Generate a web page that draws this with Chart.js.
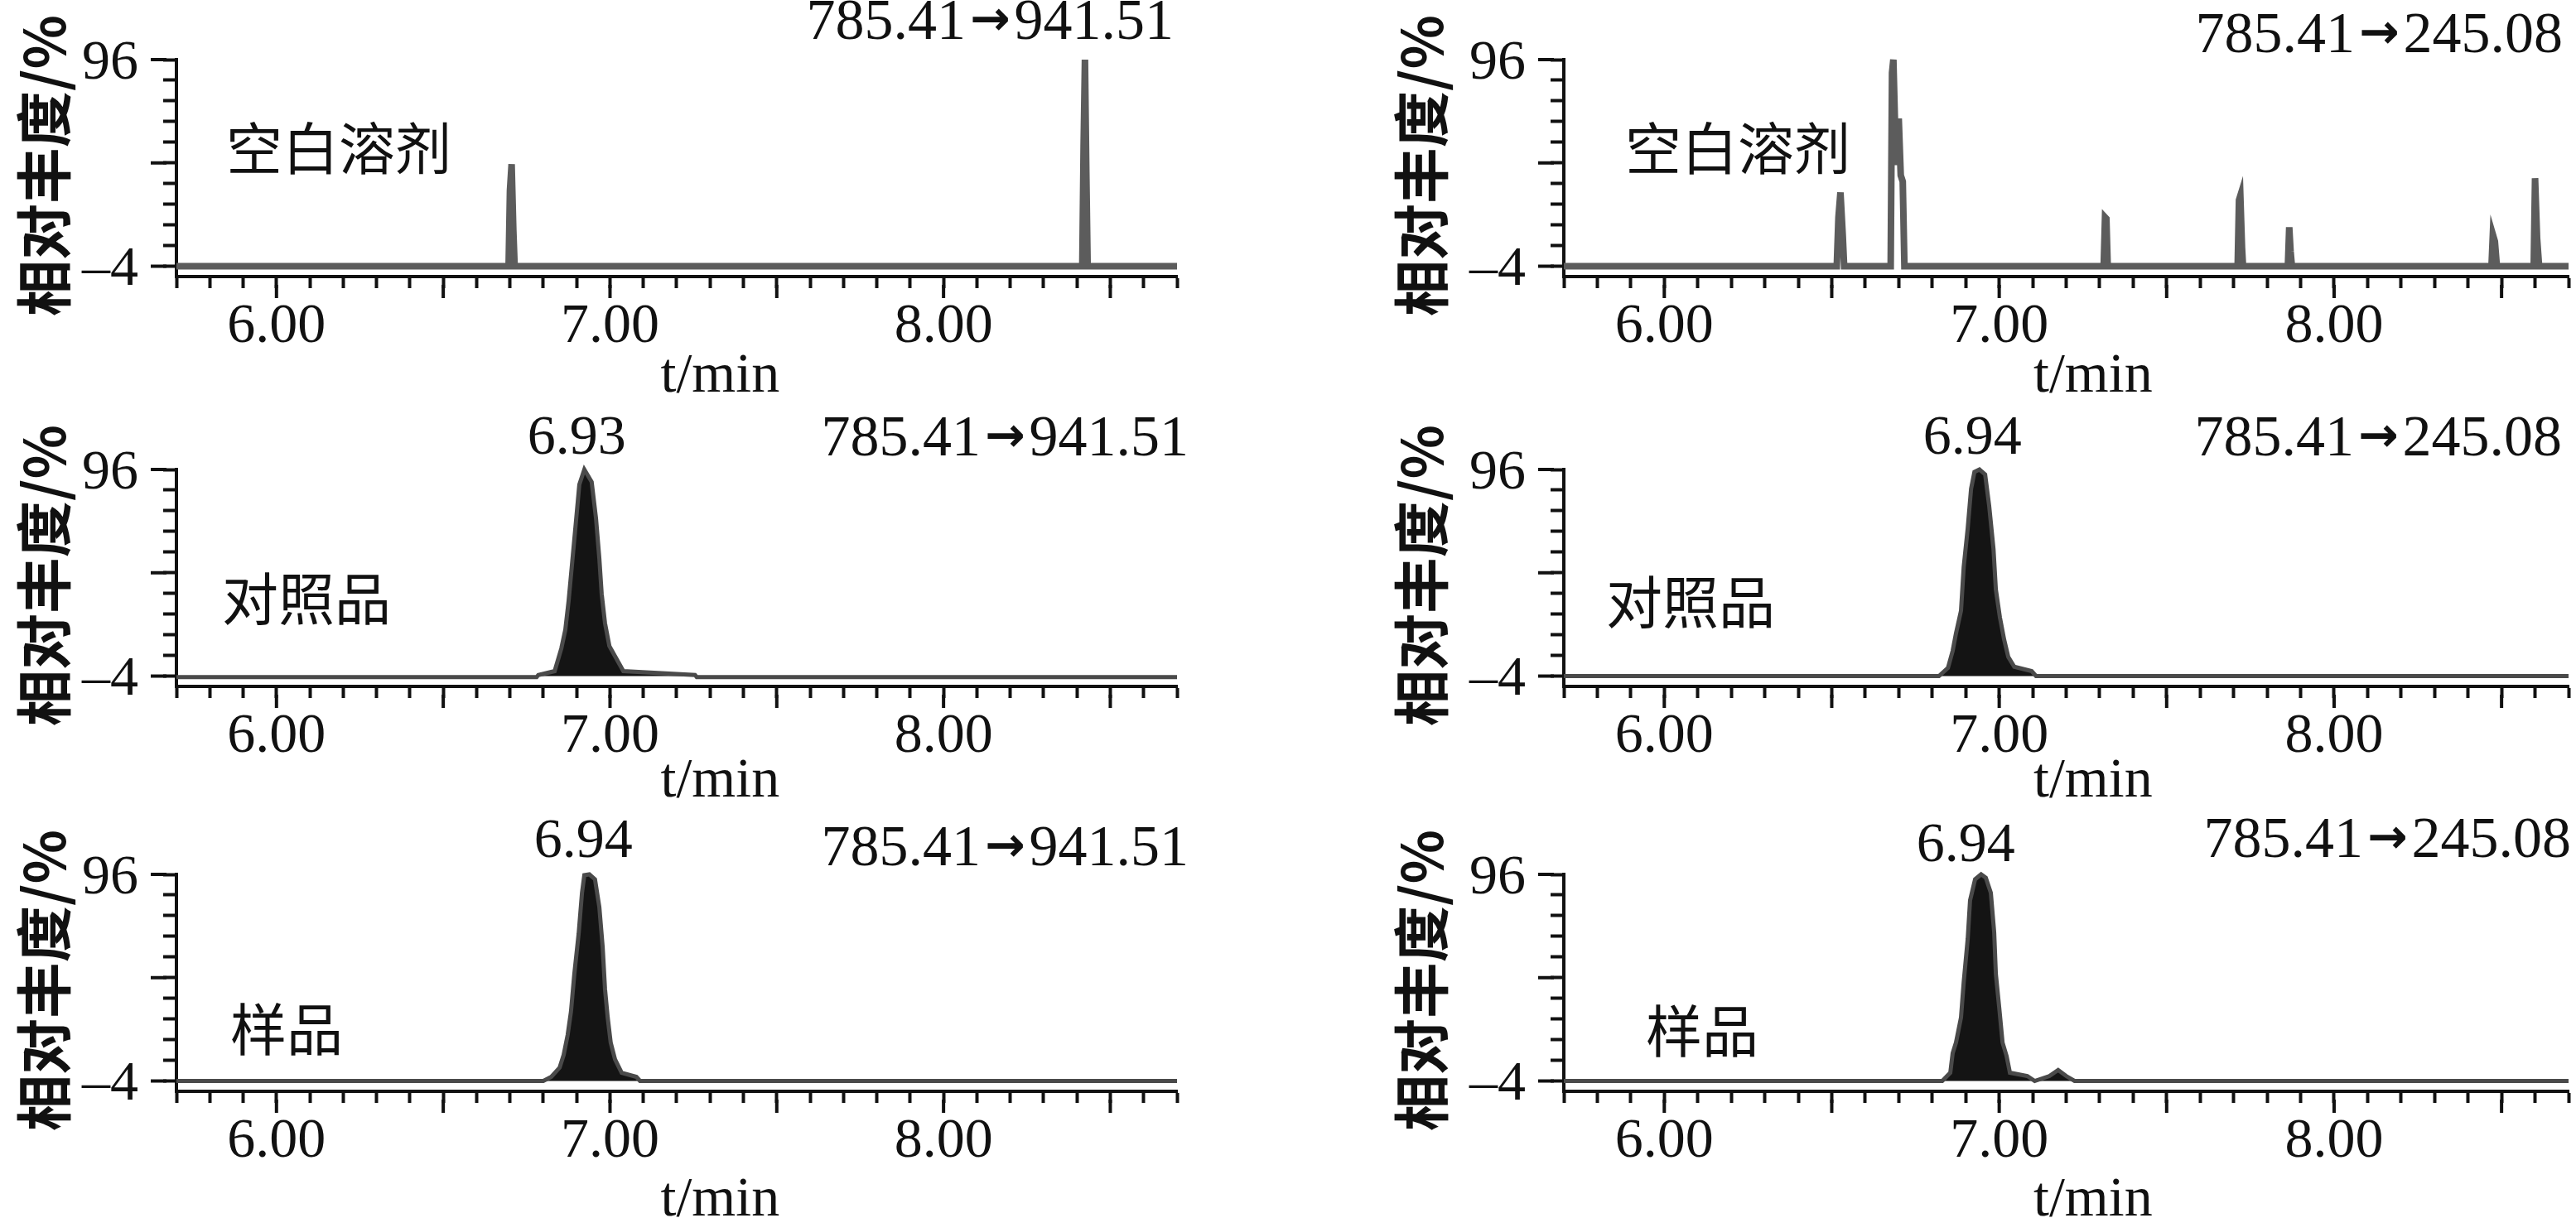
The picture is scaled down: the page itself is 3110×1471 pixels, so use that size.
<!DOCTYPE html>
<html>
<head>
<meta charset="utf-8">
<title>MRM chromatograms</title>
<script src="https://cdn.jsdelivr.net/npm/chart.js@4.4.0/dist/chart.umd.min.js"></script>
<style>
  html, body { margin: 0; padding: 0; background: #fff; }
  body { width: 3110px; height: 1471px; position: relative; overflow: hidden; }
  canvas { position: absolute; }
</style>
</head>
<body>
<canvas id="c0"></canvas>
<canvas id="c1"></canvas>
<canvas id="c2"></canvas>
<canvas id="c3"></canvas>
<canvas id="c4"></canvas>
<canvas id="c5"></canvas>
<script>
// axes
var xMin = 5.70, xMax = 8.70;
var yMin = -9, yMax = 96;
var yTickValues = [-4, 6, 16, 26, 36, 46, 56, 66, 76, 86, 96];
var yTickLabels = [96, -4];
var yMajorTicks = [96, 46, -4];
var xTickLabels = ['6.00', '7.00', '8.00'];
var xMajorTicks = [6.0, 6.5, 7.0, 7.5, 8.0, 8.5];

// 785.41 -> 941.51 channel
var blank941Time  = [5.70, 6.696, 6.700, 6.705, 6.710, 6.714, 8.416, 8.420, 8.424, 8.428, 8.432, 8.70];
var blank941Abund = [-4, -4, 32.5, 45.4, 13.7, -4, -4, 53.8, 96, 41.8, -4, -4];

var std941Time  = [5.70, 6.78, 6.785, 6.834, 6.854, 6.866, 6.876, 6.886, 6.898, 6.908, 6.923, 6.945, 6.958, 6.968, 6.975, 6.985, 6.998, 7.04, 7.255, 7.26, 8.70];
var std941Abund = [-4.5, -4.5, -3.5, -1.6, 9.4, 18.4, 32.6, 50, 71, 88.7, 96, 90, 72.4, 52.9, 35.8, 21.6, 10.6, -1.6, -3.5, -4.5, -4.5];

var sample941Time  = [5.70, 6.80, 6.824, 6.849, 6.861, 6.873, 6.883, 6.893, 6.906, 6.916, 6.923, 6.938, 6.955, 6.968, 6.978, 6.985, 6.993, 7.002, 7.015, 7.035, 7.079, 7.09, 8.70];
var sample941Abund = [-4, -4, -2, 2.5, 8.6, 18.3, 29.6, 47.8, 67.3, 87.1, 95.6, 96, 93.6, 80.2, 60.8, 40.5, 26.8, 14.6, 6.5, 0, -2, -4, -4];

// 785.41 -> 245.08 channel
var blank245Time  = [5.70, 6.515, 6.520, 6.526, 6.533, 6.537, 6.676, 6.680, 6.684, 6.692, 6.700, 6.706, 6.712, 6.717,
                     7.312, 7.316, 7.320, 7.324, 7.712, 7.716, 7.720, 7.725, 7.728, 7.862, 7.866, 7.870, 7.874,
                     8.470, 8.474, 8.480, 8.486, 8.596, 8.600, 8.606, 8.612, 8.70];
var blank245Abund = [-4, -4, 19.7, 31.7, 10.5, -4, -4, 89.6, 96, 45, 67.5, 40, 37, -4,
                     -4, 19.7, 19, -4, -4, 28, 30.1, 5, -4, -4, 14.9, 3.2, -4,
                     -4, 11.3, 8, -4, -4, 38.6, 9.7, -4, -4];

var std245Time  = [5.70, 6.82, 6.847, 6.861, 6.871, 6.886, 6.894, 6.906, 6.916, 6.926, 6.941, 6.958, 6.970, 6.983, 6.990, 7.002, 7.015, 7.027, 7.045, 7.097, 7.11, 8.70];
var std245Abund = [-4, -4, 0, 8.2, 16.7, 27.7, 48.8, 67.5, 86.6, 94.8, 96, 93.6, 78.5, 57.4, 37.9, 24.5, 13.5, 5.3, 0.5, -1.6, -4, -4];

var sample245Time  = [5.70, 6.83, 6.854, 6.861, 6.871, 6.886, 6.894, 6.906, 6.913, 6.928, 6.946, 6.960, 6.975, 6.985, 6.990, 7.000, 7.010, 7.022, 7.032, 7.084, 7.106, 7.15, 7.176, 7.20, 7.225, 8.70];
var sample245Abund = [-4, -4, 0, 9.4, 14.6, 26.8, 43.8, 64.8, 83.4, 93.6, 96, 94.4, 87.1, 68, 47.8, 31.6, 14.6, 8.1, 0, -1.6, -4, -1.6, 1.3, -1.6, -4, -4];

// precursor -> product ion labels
var ion941 = ['785.41', '941.51'];
var ion245 = ['785.41', '245.08'];

// page layout
var cols = [
    { left: 0, width: 1460, axisX: 213, right: 1421, titleDx: -160 },
    { left: 1555, width: 1555, axisX: 333, right: 1546, titleDx: -172 }
];
var rowTops = [0, 495, 984];
var canvasH = 487, padTop = 72, plotH = 262;

var panels = [
    { id: 'c0', col: 0, row: 0, time: blank941Time, abund: blank941Abund, filled: false, ion: ion941, ionDx: -4, ionDy: -25,
      name: '空白溶剂', nameDx: 60, nameDy: 107, tminAt: 7.33, tminDy: 139 },
    { id: 'c1', col: 1, row: 0, time: blank245Time, abund: blank245Abund, filled: false, ion: ion245, ionDx: -7, ionDy: -9,
      name: '空白溶剂', nameDx: 74, nameDy: 107, tminAt: 7.28, tminDy: 139 },
    { id: 'c2', col: 0, row: 1, time: std941Time, abund: std941Abund, filled: true, ion: ion941, ionDx: 14, ionDy: -17,
      name: '对照品', nameDx: 55, nameDy: 156, peak: '6.93', peakAt: 6.90, peakDy: -19, tminAt: 7.33, tminDy: 133 },
    { id: 'c3', col: 1, row: 1, time: std245Time, abund: std245Abund, filled: true, ion: ion245, ionDx: -8, ionDy: -17,
      name: '对照品', nameDx: 51, nameDy: 160, peak: '6.94', peakAt: 6.92, peakDy: -19, tminAt: 7.28, tminDy: 133 },
    { id: 'c4', col: 0, row: 2, time: sample941Time, abund: sample941Abund, filled: true, ion: ion941, ionDx: 14, ionDy: -11,
      name: '样品', nameDx: 65, nameDy: 187, peak: '6.94', peakAt: 6.92, peakDy: -21, tminAt: 7.33, tminDy: 150 },
    { id: 'c5', col: 1, row: 2, time: sample245Time, abund: sample245Abund, filled: true, ion: ion245, ionDx: 3, ionDy: -21,
      name: '样品', nameDx: 99, nameDy: 189, peak: '6.94', peakAt: 6.90, peakDy: -16, tminAt: 7.28, tminDy: 150 }
];

var numFont = '"Liberation Serif", "Times New Roman", serif';
var cjkFont = '"Noto Sans CJK SC", sans-serif';
var arrowFont = 'bold 58px "DejaVu Sans", sans-serif';

function minusLabel(v) {
    return v < 0 ? '\u2013' + Math.abs(v) : String(v);
}

// "785.41 → 941.51", right aligned, with a heavier arrow like the original
function drawIon(ctx, parts, right, base) {
    ctx.font = '70px ' + numFont;
    var w1 = ctx.measureText(parts[0]).width;
    var w2 = ctx.measureText(parts[1]).width;
    ctx.font = arrowFont;
    var wa = ctx.measureText('\u2192').width;
    var x2 = right - w2;
    var xa = x2 - 5 - wa;
    var x1 = xa - 5 - w1;
    ctx.textAlign = 'left';
    ctx.fillText('\u2192', xa, base - 5);
    ctx.font = '70px ' + numFont;
    ctx.fillText(parts[0], x1, base);
    ctx.fillText(parts[1], x2, base);
}

function makeLabels(p, col) {
    return {
        id: 'chromLabels',
        afterDraw: function (chart) {
            var ctx = chart.ctx, a = chart.chartArea;
            var xs = chart.scales.x, ys = chart.scales.y;
            ctx.save();
            // longer ticks every 0.5 min and at 96 / 46 / -4
            ctx.strokeStyle = '#111';
            ctx.lineWidth = 4;
            xMajorTicks.forEach(function (t) {
                var px = xs.getPixelForValue(t);
                ctx.beginPath();
                ctx.moveTo(px, a.bottom + 10);
                ctx.lineTo(px, a.bottom + 26);
                ctx.stroke();
            });
            yMajorTicks.forEach(function (v) {
                var py = ys.getPixelForValue(v);
                ctx.beginPath();
                ctx.moveTo(a.left - 12, py);
                ctx.lineTo(a.left - 31, py);
                ctx.stroke();
            });

            ctx.fillStyle = '#111';
            ctx.textBaseline = 'alphabetic';
            drawIon(ctx, p.ion, a.right + p.ionDx, a.top + p.ionDy);

            ctx.font = '68px ' + numFont;
            ctx.textAlign = 'center';
            if (p.peak) {
                ctx.fillText(p.peak, xs.getPixelForValue(p.peakAt), a.top + p.peakDy);
            }
            ctx.fillText('t/min', xs.getPixelForValue(p.tminAt), a.bottom + p.tminDy);

            ctx.font = '68px ' + cjkFont;
            ctx.textAlign = 'left';
            ctx.textBaseline = 'middle';
            ctx.fillText(p.name, a.left + p.nameDx, a.top + p.nameDy);

            ctx.translate(a.left + col.titleDx, a.top + 128);
            ctx.rotate(-Math.PI / 2);
            ctx.font = 'bold 68px ' + cjkFont;
            ctx.textAlign = 'center';
            ctx.fillText('相对丰度/%', 0, 0);
            ctx.restore();
        }
    };
}

panels.forEach(function (p) {
    var col = cols[p.col];
    var cv = document.getElementById(p.id);
    cv.width = col.width;
    cv.height = canvasH;
    cv.style.left = col.left + 'px';
    cv.style.top = rowTops[p.row] + 'px';

    var points = p.time.map(function (t, i) { return { x: t, y: p.abund[i] }; });

    new Chart(cv.getContext('2d'), {
        type: 'line',
        data: {
            datasets: [{
                data: points,
                borderColor: p.filled ? '#4a4a4a' : '#5c5c5c',
                borderWidth: p.filled ? 5 : 8,
                borderJoinStyle: 'miter',
                backgroundColor: '#141414',
                fill: p.filled ? { value: -4 } : false,
                clip: 12,
                pointRadius: 0,
                tension: 0
            }]
        },
        options: {
            responsive: false,
            animation: false,
            layout: { padding: { top: padTop, right: col.width - col.right, bottom: 0, left: 0 } },
            plugins: { legend: { display: false }, tooltip: { enabled: false } },
            scales: {
                x: {
                    type: 'linear',
                    min: xMin,
                    max: xMax,
                    afterFit: function (s) { s.height = canvasH - padTop - plotH; },
                    border: { display: true, color: '#111', width: 4 },
                    grid: { display: true, drawOnChartArea: false, drawTicks: true, tickLength: 14, tickWidth: 4, tickColor: '#111' },
                    ticks: {
                        stepSize: 0.1,
                        autoSkip: false,
                        maxRotation: 0,
                        padding: 6,
                        color: '#111',
                        font: { family: numFont, size: 68 },
                        callback: function (v) {
                            var hit = xTickLabels.find(function (s) { return Math.abs(parseFloat(s) - v) < 1e-6; });
                            return hit || '';
                        }
                    }
                },
                y: {
                    type: 'linear',
                    min: yMin,
                    max: yMax,
                    afterFit: function (s) { s.width = col.axisX; },
                    afterBuildTicks: function (s) {
                        s.ticks = yTickValues.map(function (v) { return { value: v }; });
                    },
                    border: { display: true, color: '#111', width: 4 },
                    grid: { display: true, drawOnChartArea: false, drawTicks: true, tickLength: 16, tickWidth: 4, tickColor: '#111' },
                    ticks: {
                        autoSkip: false,
                        padding: 30,
                        labelOffset: 5,
                        color: '#111',
                        font: { family: numFont, size: 68 },
                        callback: function (v) {
                            return yTickLabels.indexOf(v) >= 0 ? minusLabel(v) : '';
                        }
                    }
                }
            }
        },
        plugins: [makeLabels(p, col)]
    });
});
</script>
</body>
</html>
